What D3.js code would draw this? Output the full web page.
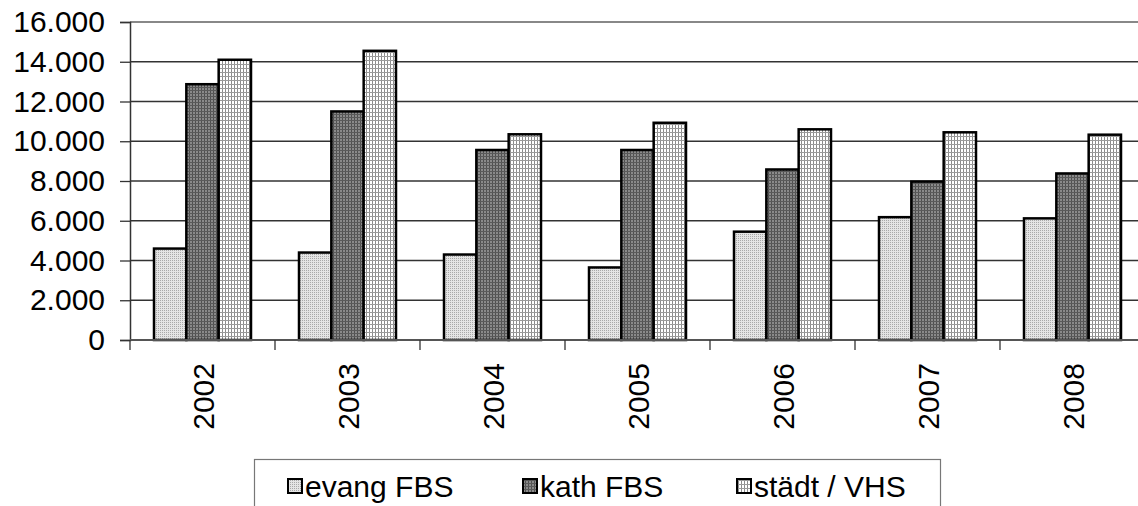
<!DOCTYPE html>
<html>
<head>
<meta charset="utf-8">
<script src="https://cdn.jsdelivr.net/npm/d3@7"></script>
<style>
  body { margin: 0; background: #fff; }
  text { font-family: "Liberation Sans", Arial, sans-serif; fill: #000; }
</style>
</head>
<body>
<div id="chart"></div>
<script>
const years = ["2002", "2003", "2004", "2005", "2006", "2007", "2008"];
const seriesNames = ["evang FBS", "kath FBS", "städt / VHS"];
const evang = [4600, 4400, 4300, 3650, 5450, 6180, 6120];
const kath = [12870, 11500, 9560, 9560, 8580, 7970, 8380];
const staedt = [14100, 14550, 10350, 10930, 10600, 10450, 10330];
const yTicks = [0, 2000, 4000, 6000, 8000, 10000, 12000, 14000, 16000];

const series = [evang, kath, staedt];
const width = 1138, height = 506;
const margin = {top: 22, left: 130, bottom: 166};
const plotW = 145 * years.length;
const fontPx = 30;

const svg = d3.select("#chart").append("svg")
    .attr("width", width)
    .attr("height", height);

// fill patterns
const defs = svg.append("defs");
let p1 = defs.append("pattern").attr("id", "pat0")
    .attr("width", 2).attr("height", 2).attr("patternUnits", "userSpaceOnUse");
p1.append("rect").attr("width", 2).attr("height", 2).attr("fill", "#e4e4e4");
p1.append("rect").attr("width", 1).attr("height", 1).attr("fill", "#a8a8a8");

let p2 = defs.append("pattern").attr("id", "pat1")
    .attr("width", 3).attr("height", 3).attr("patternUnits", "userSpaceOnUse");
p2.append("rect").attr("width", 3).attr("height", 3).attr("fill", "#8a8a8a");
p2.append("rect").attr("width", 1).attr("height", 3).attr("fill", "#505050");
p2.append("rect").attr("width", 3).attr("height", 1).attr("fill", "#5a5a5a");

let p3 = defs.append("pattern").attr("id", "pat2")
    .attr("width", 3).attr("height", 4).attr("patternUnits", "userSpaceOnUse");
p3.append("rect").attr("width", 3).attr("height", 4).attr("fill", "#fff");
p3.append("rect").attr("width", 1).attr("height", 4).attr("fill", "#8c8c8c");
p3.append("rect").attr("width", 3).attr("height", 1).attr("fill", "#9a9a9a");

const x0 = d3.scaleBand()
    .domain(years)
    .range([margin.left, margin.left + plotW]);

const x1 = d3.scaleBand()
    .domain(d3.range(series.length))
    .range([24, 145 - 24]);

const y = d3.scaleLinear()
    .domain([0, 16000])
    .range([height - margin.bottom, margin.top]);

const fmt = (v) => d3.format(",")(v).replace(/,/g, ".");

// gridlines
svg.append("g")
    .selectAll("line")
    .data(yTicks.slice(1))
    .enter().append("line")
    .attr("x1", margin.left).attr("x2", margin.left + plotW)
    .attr("y1", (d) => y(d)).attr("y2", (d) => y(d))
    .attr("stroke", (d) => d === 16000 ? "#888" : "#333")
    .attr("stroke-width", (d) => d === 16000 ? 2 : 1.3);

// bars
years.forEach((yr, i) => {
  let g = svg.append("g");
  series.forEach((s, j) => {
    g.append("rect")
      .attr("x", x0(yr) + x1(j))
      .attr("y", y(s[i]))
      .attr("width", x1.bandwidth())
      .attr("height", y(0) - y(s[i]))
      .attr("fill", `url(#pat${ j })`)
      .attr("stroke", "#000")
      .attr("stroke-width", 2.5);
  });
});

// y axis
const yAxis = svg.append("g")
    .attr("transform", `translate(${ margin.left }, 0)`)
    .call(d3.axisLeft(y).tickValues(yTicks).tickFormat(fmt).tickSize(10).tickPadding(15));
yAxis.select(".domain").attr("stroke", "#333").attr("stroke-width", 1.5);
yAxis.selectAll(".tick line").attr("stroke", "#333").attr("stroke-width", 1.3);
yAxis.selectAll("text")
    .attr("font-size", `${ fontPx }px`)
    .attr("font-family", "Liberation Sans, Arial, sans-serif")
    .attr("fill", "#000");

// x axis
const xAxis = svg.append("g")
    .attr("transform", `translate(0, ${ y(0) })`);
xAxis.append("line")
    .attr("x1", margin.left).attr("x2", margin.left + plotW)
    .attr("stroke", "#555").attr("stroke-width", 2);
xAxis.selectAll(".sep")
    .data(years.map((d) => x0(d)).concat([margin.left + plotW]))
    .enter().append("line")
    .attr("class", "sep")
    .attr("x1", (d) => d).attr("x2", (d) => d)
    .attr("y1", 0).attr("y2", 10)
    .attr("stroke", "#333").attr("stroke-width", 1.3);
xAxis.selectAll(".lbl")
    .data(years)
    .enter().append("text")
    .attr("class", "lbl")
    .attr("transform", (d) => `translate(${ x0(d) + x0.bandwidth() / 2 + 11 }, 23) rotate(-90)`)
    .attr("text-anchor", "end")
    .attr("font-size", `${ fontPx }px`)
    .text((d) => d);

// legend
const leg = svg.append("g");
leg.append("rect")
    .attr("x", 254.5).attr("y", 459.5)
    .attr("width", 686).attr("height", 60)
    .attr("fill", "#fff")
    .attr("stroke", "#777").attr("stroke-width", 1.2);
const legX = [288, 523, 737];
seriesNames.forEach((name, j) => {
  leg.append("rect")
    .attr("x", legX[j]).attr("y", 479)
    .attr("width", 14).attr("height", 14)
    .attr("fill", `url(#pat${ j })`)
    .attr("stroke", "#000").attr("stroke-width", 2);
  leg.append("text")
    .attr("x", legX[j] + 17).attr("y", 497)
    .attr("font-size", `${ fontPx }px`)
    .text(name);
});
</script>
</body>
</html>
